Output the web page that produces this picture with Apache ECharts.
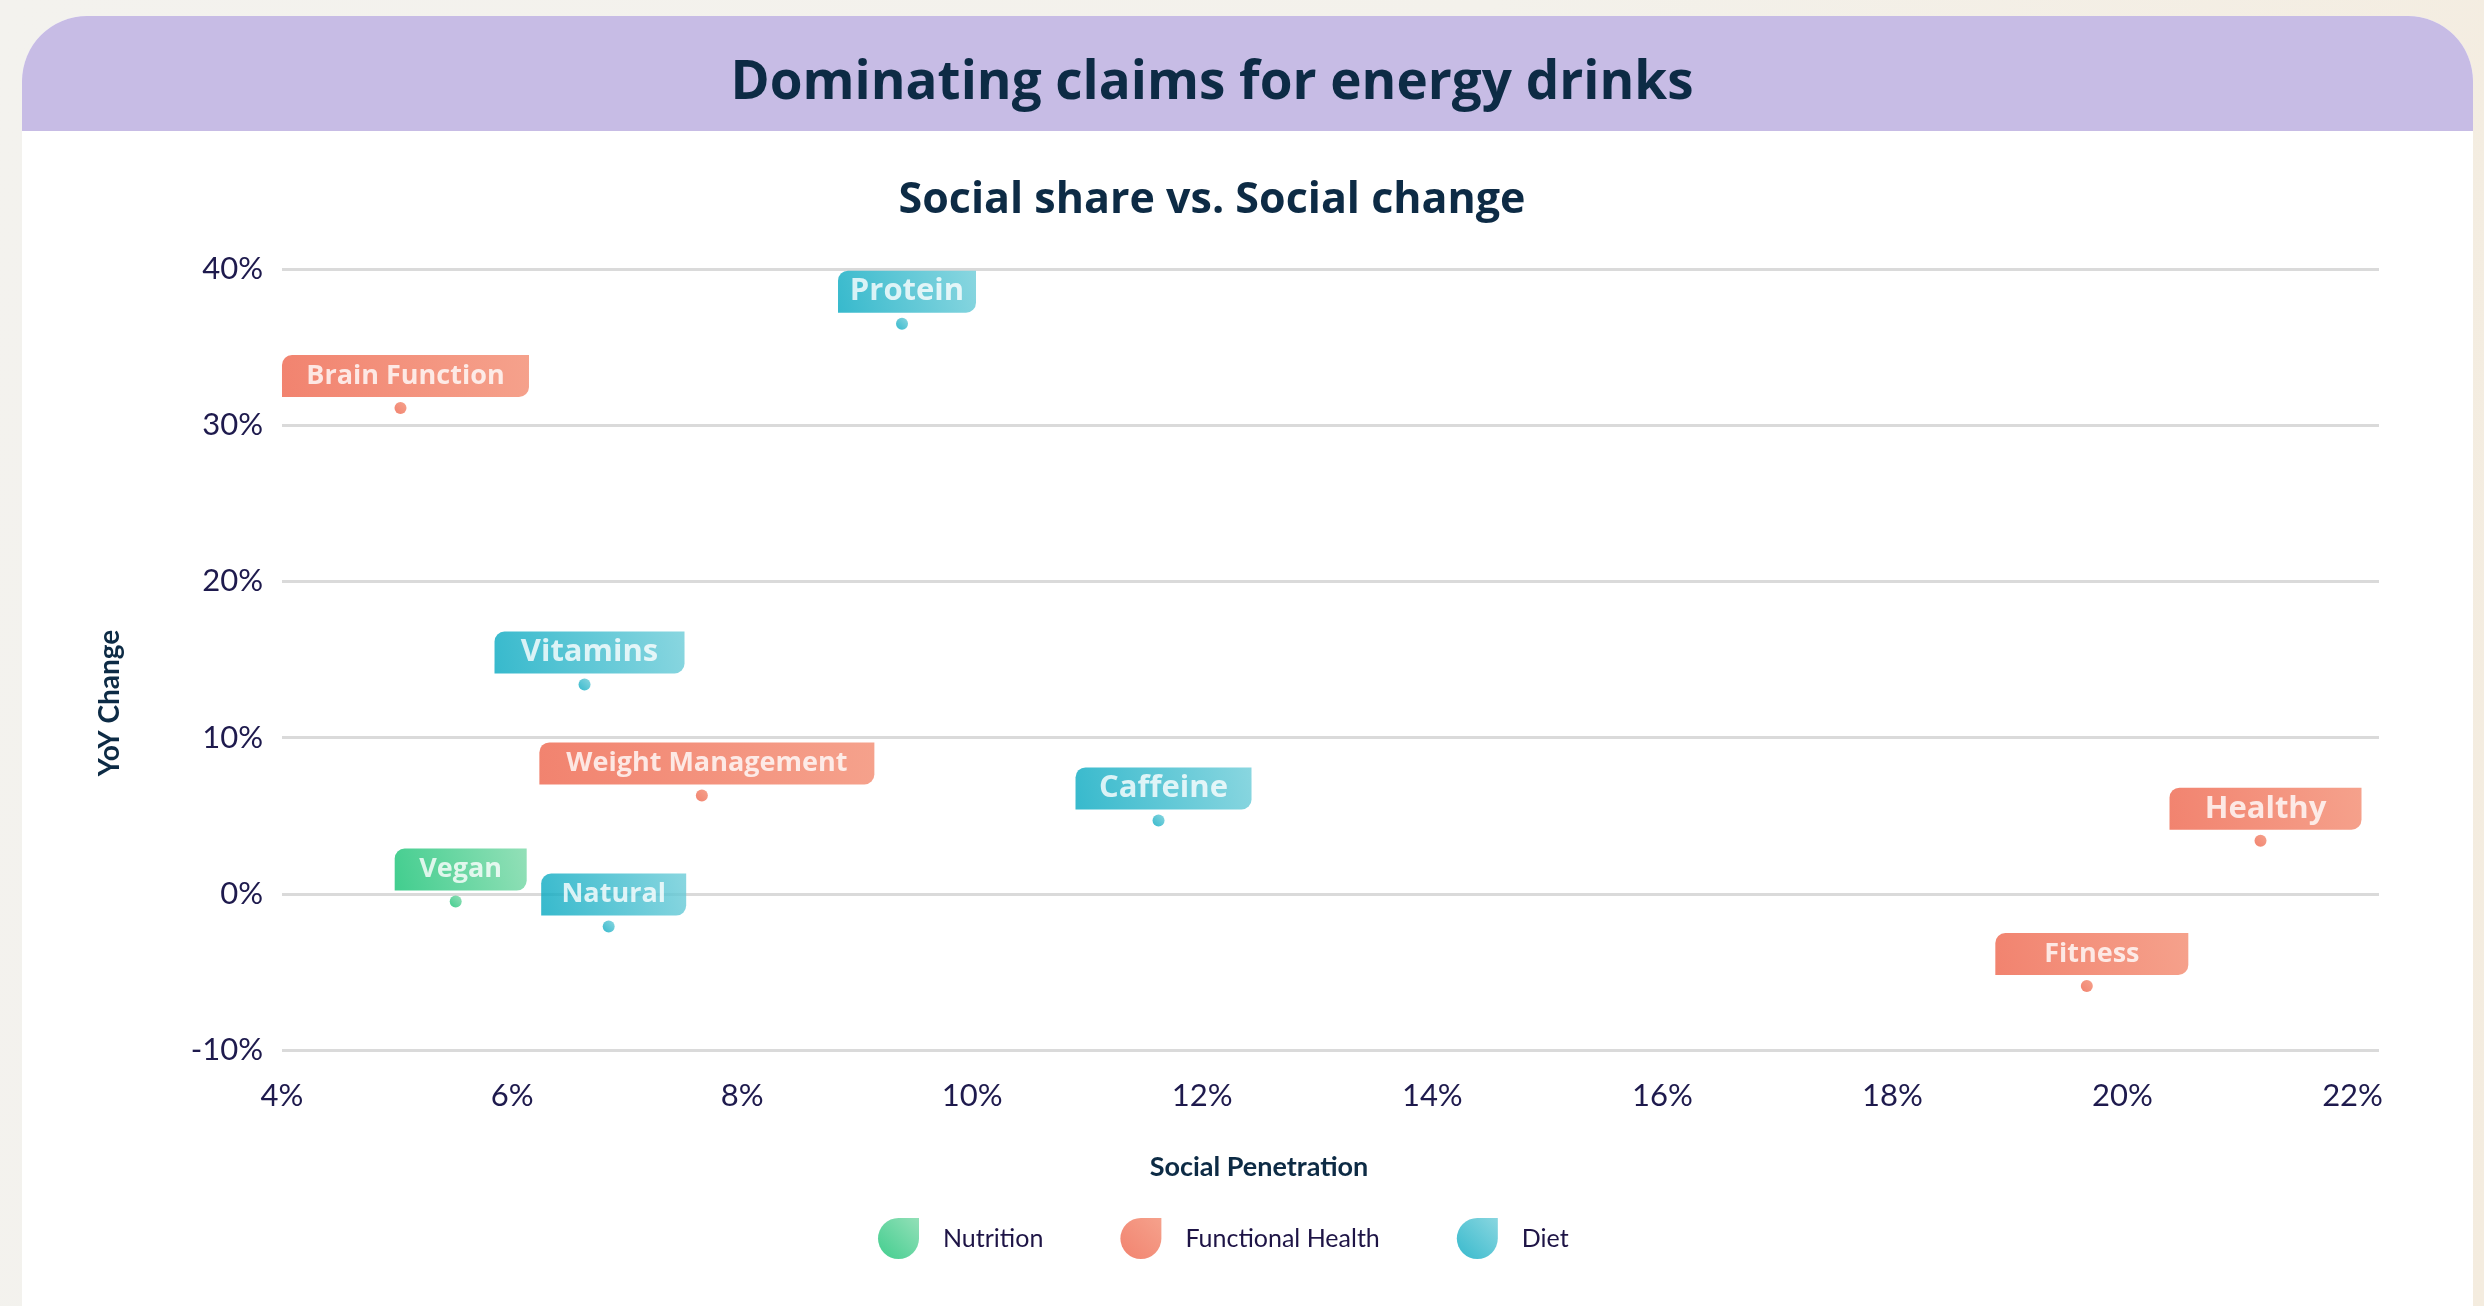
<!DOCTYPE html>
<html>
<head>
<meta charset="utf-8">
<title>Dominating claims for energy drinks</title>
<script src="https://cdn.jsdelivr.net/npm/echarts@6/dist/echarts.min.js"></script>
<style>
  html, body { margin: 0; padding: 0; width: 100%; height: 100%; }
  body { background: linear-gradient(100deg, #F3F2EE 0%, #F3F1EB 55%, #F4ECDF 100%); }
  #chart { width: 2484px; height: 1306px; }
</style>
</head>
<body>
<div id="chart"></div>
<script>
// claims and their values
const claims = ["Protein", "Brain Function", "Vitamins", "Weight Management", "Caffeine", "Healthy", "Fitness", "Vegan", "Natural"];
const claimGroup = ["Diet", "Functional Health", "Diet", "Functional Health", "Diet", "Functional Health", "Functional Health", "Nutrition", "Diet"];
const socialPenetration = [9.39, 5.03, 6.63, 7.65, 11.62, 21.2, 19.69, 5.51, 6.84];
const yoyChange = [36.5, 31.1, 13.4, 6.3, 4.7, 3.4, -5.9, -0.5, -2.1];
const groups = ["Nutrition", "Functional Health", "Diet"];

// label box look (not data)
const labelBoxWidth = {
  "Protein": 138, "Brain Function": 247, "Vitamins": 190, "Weight Management": 335,
  "Caffeine": 176, "Healthy": 192, "Fitness": 193, "Vegan": 132, "Natural": 145
};
const bigLabels = ["Protein", "Vitamins", "Caffeine", "Healthy"];
const groupColors = {
  "Nutrition": ["#12C172", "#78D8A6"],
  "Functional Health": ["#EE644B", "#F38A6F"],
  "Diet": ["#05A8C0", "#6CCCD8"]
};

const FONT = "Lato";
const HEAD_FONT = "Open Sans";
const NAVY = "#0D2B45";
const INK = "#1E1A4D";

function grad(c) {
  return new echarts.graphic.LinearGradient(0, 1, 1, 0, [
    { offset: 0, color: c[0] },
    { offset: 1, color: c[1] }
  ]);
}

const chart = echarts.init(document.getElementById("chart"));

const series = groups.map(function (g) {
  const data = [];
  claims.forEach(function (c, i) {
    if (claimGroup[i] !== g) return;
    data.push({
      name: c,
      value: [socialPenetration[i], yoyChange[i]],
      label: {
        width: labelBoxWidth[c],
        fontSize: bigLabels.indexOf(c) >= 0 ? 31 : 27
      }
    });
  });
  return {
    name: g,
    type: "scatter",
    symbol: "circle",
    symbolSize: 12,
    itemStyle: { color: grad(groupColors[g]) },
    label: {
      show: true,
      position: "top",
      distance: 5,
      offset: [5, 0],
      formatter: "{b}",
      color: "#fff",
      fontFamily: HEAD_FONT,
      fontWeight: "bold",
      height: 42,
      lineHeight: 42,
      align: "center",
      padding: 0,
      backgroundColor: grad(groupColors[g]),
      borderRadius: [10, 0, 10, 0]
    },
    emphasis: { disabled: true },
    data: data
  };
});

chart.setOption({
  backgroundColor: "transparent",
  animation: false,
  graphic: [
    {
      type: "rect", z: -10, silent: true,
      shape: { x: 22, y: 16, width: 2451, height: 1340, r: [65, 65, 0, 0] },
      style: { fill: "#FFFFFF" }
    },
    {
      type: "rect", z: -9, silent: true,
      shape: { x: 22, y: 16, width: 2451, height: 115, r: [65, 65, 0, 0] },
      style: { fill: "#C7BCE5" }
    },
    {
      type: "text", x: 1212, y: 84, silent: true,
      style: { text: "Dominating claims for energy drinks", font: "bold 53px " + HEAD_FONT, fill: NAVY, align: "center", verticalAlign: "middle" }
    },
    {
      type: "text", x: 1212, y: 201, silent: true,
      style: { text: "Social share vs. Social change", font: "bold 43px " + HEAD_FONT, fill: NAVY, align: "center", verticalAlign: "middle" }
    },
    {
      type: "text", x: 110, y: 703, rotation: Math.PI / 2, silent: true,
      style: { text: "YoY Change", font: "bold 28px " + FONT, fill: NAVY, align: "center", verticalAlign: "middle" }
    },
    {
      type: "text", x: 1259, y: 1167, silent: true,
      style: { text: "Social Penetration", font: "bold 27px " + FONT, fill: NAVY, align: "center", verticalAlign: "middle" }
    }
  ],
  grid: { left: 282, right: 105, top: 269, bottom: 256 },
  xAxis: {
    type: "value",
    // the grid lines run a little past the 22% tick
    min: 4, max: 22.23, interval: 2,
    axisLine: { show: false },
    axisTick: { show: false },
    splitLine: { show: false },
    axisLabel: { formatter: "{value}%", fontFamily: FONT, fontSize: 31, color: INK, margin: 30, showMaxLabel: false }
  },
  yAxis: {
    type: "value",
    min: -10, max: 40, interval: 10,
    axisLine: { show: false },
    axisTick: { show: false },
    splitLine: { lineStyle: { color: "#DADADA", width: 3 } },
    axisLabel: { formatter: "{value}%", fontFamily: FONT, fontSize: 31, color: INK, margin: 19 }
  },
  legend: {
    data: groups,
    left: 873,
    top: 1213,
    itemWidth: 41,
    itemHeight: 41,
    itemGap: 77,
    icon: "path://M50 0H100V50A50 50 0 1 1 50 0Z",
    textStyle: { fontFamily: FONT, fontSize: 25, color: "#1E1446", padding: [0, 0, 0, 19] }
  },
  series: series
});
</script>
</body>
</html>
